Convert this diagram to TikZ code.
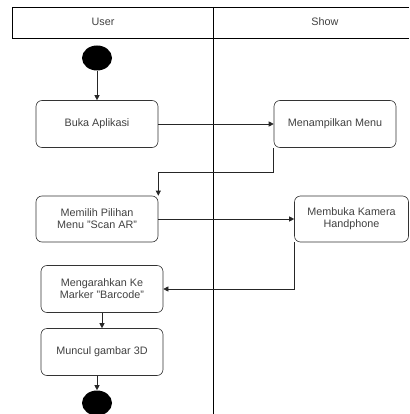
\documentclass[tikz,border=0pt]{standalone}
\usepackage{fontspec}
\setmainfont{Liberation Sans}
\usetikzlibrary{arrows.meta,shapes.geometric}
\begin{document}
\begin{tikzpicture}[x=1pt,y=-1pt,line width=0.6pt,
    font=\fontsize{10.8}{12}\selectfont,
    act/.style={draw=black!80,rounded corners=6pt,minimum width=122pt,minimum height=47pt,align=center,text=black!75,inner sep=2pt},
    dot/.style={ellipse,fill=black,minimum width=30pt,minimum height=25pt,inner sep=0pt},
    flow/.style={-{Triangle[length=5pt,width=5pt]},draw=black!85}]
    \useasboundingbox (0,0) rectangle (409,414);
    % swimlanes
    \draw (409,7)--(12,7)--(12,38)--(409,38);
    \draw (213,7)--(213,414);
    \node[text=black!75] (user) at (103,22) {User};
    \node[text=black!75] (show) at (325,22) {Show};
    % activities
    \node[dot] (start) at (97,58) {};
    \node[act] (buka) at (97,124) {Buka Aplikasi};
    \node[act] (menu) at (335,124) {Menampilkan Menu};
    \node[act,minimum height=46pt] (pilih) at (97,219) {Memilih Pilihan\\Menu "Scan AR"};
    \node[act,minimum width=114pt,minimum height=46pt] (kamera) at (351.5,219) {Membuka Kamera\\Handphone};
    \node[act] (arah) at (102,289) {Mengarahkan Ke\\Marker "Barcode"};
    \node[act] (muncul) at (102,352) {Muncul gambar 3D};
    \node[dot] (stop) at (97,403) {};
    % flow
    \draw[flow] (start)--(buka);
    \draw[flow] (buka)--(menu);
    \draw[flow] (menu.south west)--++(0,24)-|(pilih.north east);
    \draw[flow] (pilih)--(kamera);
    \draw[flow] (kamera.south west)|-(arah.east);
    \draw[flow] (arah)--(muncul);
    \draw[flow] (muncul.south -| stop)--(stop);
\end{tikzpicture}
\end{document}
